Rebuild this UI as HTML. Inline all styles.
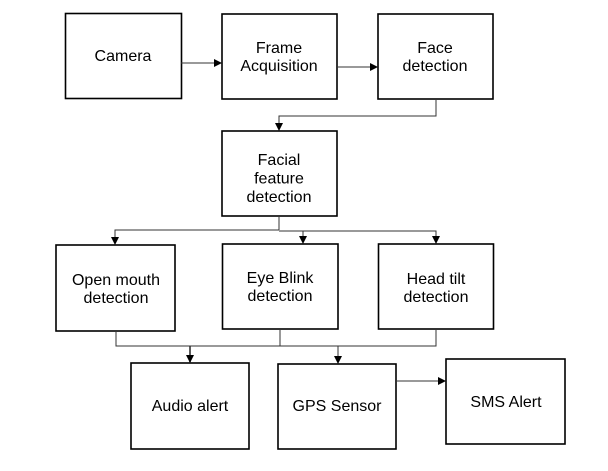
<!DOCTYPE html>
<html><head><style>
body{margin:0;background:#fff;}
svg{display:block;}
text{font-family:"Liberation Sans",Arial,sans-serif;font-size:16px;fill:#000;text-anchor:middle;}
</style></head><body>
<svg width="608" height="471" viewBox="0 0 608 471">
<defs><marker id="a" markerWidth="8" markerHeight="8" refX="7" refY="4" orient="auto" markerUnits="userSpaceOnUse"><path d="M0,0 L8,4 L0,8 z" fill="#000"/></marker></defs>
<g fill="none" stroke="#000" stroke-width="1.6">
<rect x="65.5" y="13.5" width="116" height="85"/>
<rect x="222" y="14" width="115" height="85"/>
<rect x="378" y="14" width="115" height="85"/>
<rect x="222" y="131" width="115" height="85"/>
<rect x="56" y="245" width="119" height="86"/>
<rect x="222.5" y="244" width="115.5" height="85"/>
<rect x="378.5" y="244" width="115" height="85"/>
<rect x="131" y="363" width="118" height="86"/>
<rect x="278" y="364" width="118" height="85"/>
<rect x="446" y="359" width="119" height="85"/>
</g>
<g fill="none" stroke="#333" stroke-width="1">
<line x1="181" y1="63" x2="221" y2="63" marker-end="url(#a)"/>
<line x1="337" y1="67" x2="377" y2="67" marker-end="url(#a)"/>
<polyline points="436,99 436,116 279,116 279,130" marker-end="url(#a)"/>
<polyline points="279,216 279,230"/>
<polyline points="279,230 115,230 115,244" marker-end="url(#a)"/>
<polyline points="279,231 436,231 436,243" marker-end="url(#a)"/>
<line x1="303" y1="231" x2="303" y2="243" marker-end="url(#a)"/>
<polyline points="116,331 116,346 436,346 436,329"/>
<line x1="280" y1="329" x2="280" y2="346"/>
<polyline points="190,346 190,362" marker-end="url(#a)" stroke-width="1.6"/>
<polyline points="338,346 338,363" marker-end="url(#a)"/>
<line x1="396" y1="381" x2="445" y2="381" marker-end="url(#a)"/>
</g>
<text x="123" y="61">Camera</text>
<text x="279" y="53">Frame</text>
<text x="279" y="71">Acquisition</text>
<text x="435" y="53">Face</text>
<text x="435" y="71">detection</text>
<text x="279" y="165">Facial</text>
<text x="279" y="183.5">feature</text>
<text x="279" y="202">detection</text>
<text x="116" y="285">Open mouth</text>
<text x="116" y="303">detection</text>
<text x="280" y="283">Eye Blink</text>
<text x="280" y="301">detection</text>
<text x="436" y="284">Head tilt</text>
<text x="436" y="302">detection</text>
<text x="190" y="411">Audio alert</text>
<text x="337" y="411">GPS Sensor</text>
<text x="506" y="407">SMS Alert</text>
</svg>
</body></html>
